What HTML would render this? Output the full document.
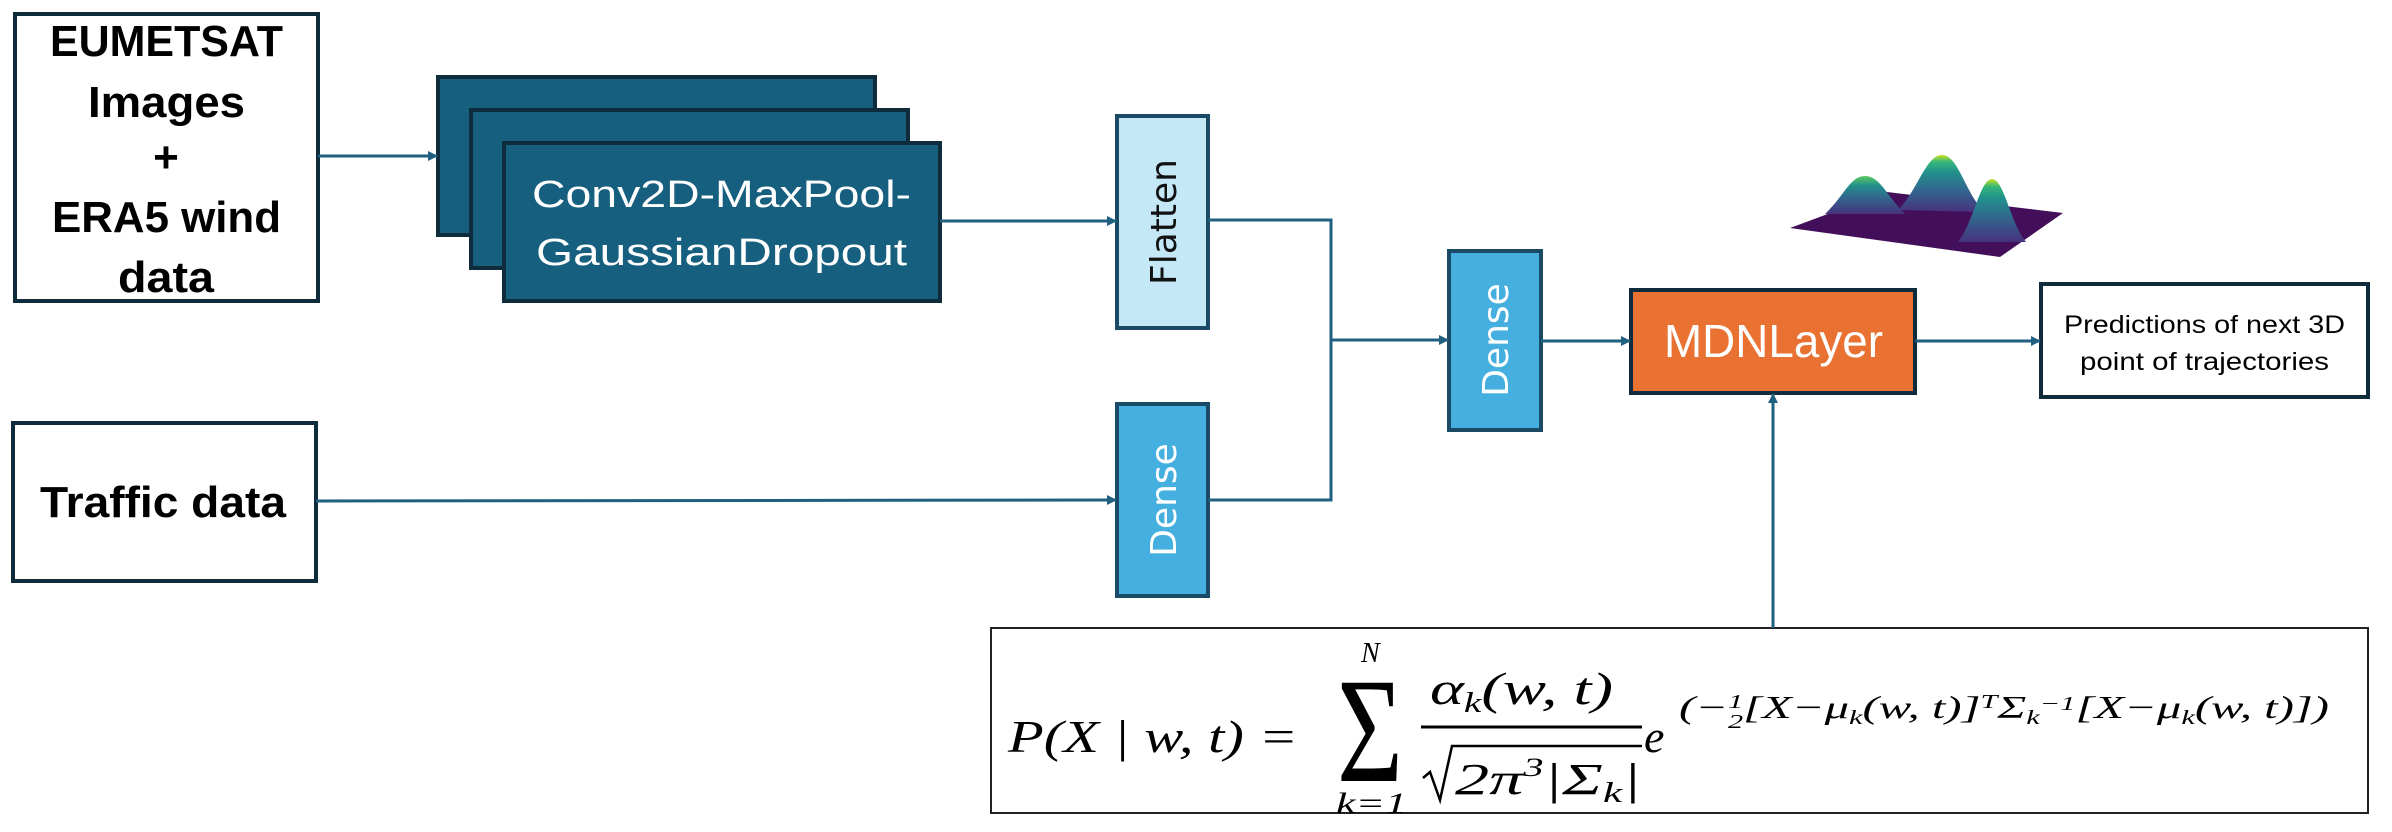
<!DOCTYPE html>
<html><head><meta charset="utf-8"><style>
html,body{margin:0;padding:0;background:#fff;}
svg{display:block;}
.b{font-family:"Liberation Sans Narrow","Liberation Sans",sans-serif;font-weight:bold;}
.n{font-family:"Liberation Sans Narrow","Liberation Sans",sans-serif;}
.d{font-family:"DejaVu Sans",sans-serif;}
.m{font-family:"Liberation Serif",serif;font-style:italic;}
.r{font-family:"Liberation Serif",serif;}
</style></head><body>
<svg width="2392" height="832" viewBox="0 0 2392 832" xmlns="http://www.w3.org/2000/svg">
<defs>
<marker id="a" markerWidth="10" markerHeight="10" refX="9" refY="5" orient="auto" markerUnits="userSpaceOnUse"><path d="M0,0 L10,5 L0,10 z" fill="#1f5f80"/></marker>
<linearGradient id="pk" x1="0" y1="1" x2="0" y2="0"><stop offset="0" stop-color="#46327e"/><stop offset="0.4" stop-color="#31688e"/><stop offset="0.7" stop-color="#21918c"/><stop offset="0.88" stop-color="#35b779"/><stop offset="1" stop-color="#c8e020"/></linearGradient>
<linearGradient id="pk2" x1="0" y1="1" x2="0" y2="0"><stop offset="0" stop-color="#46327e"/><stop offset="0.45" stop-color="#31688e"/><stop offset="0.75" stop-color="#21918c"/><stop offset="1" stop-color="#5ec962"/></linearGradient>
</defs>
<g stroke="#0f2c3d" stroke-width="4">
<rect x="15" y="14" width="303" height="287" fill="#fff"/>
<rect x="13" y="423" width="303" height="158" fill="#fff"/>
<rect x="438" y="77" width="437" height="158" fill="#175f7f"/>
<rect x="471" y="110" width="437" height="158" fill="#175f7f"/>
<rect x="504" y="143" width="436" height="158" fill="#175f7f"/>
<rect x="1117" y="116" width="91" height="212" fill="#c5e8f7" stroke="#1a4a66"/>
<rect x="1117" y="404" width="91" height="192" fill="#45b0e0" stroke="#1a4a66"/>
<rect x="1449" y="251" width="92" height="179" fill="#45b0e0" stroke="#1a4a66"/>
<rect x="1631" y="290" width="284" height="103" fill="#e97132"/>
<rect x="2041" y="284" width="327" height="113" fill="#fff"/>
</g>
<rect x="991" y="628" width="1377" height="185" fill="#fff" stroke="#222" stroke-width="2"/>
<g stroke="#1f5f80" stroke-width="3" fill="none">
<line x1="318" y1="156" x2="437" y2="156" marker-end="url(#a)"/>
<line x1="940" y1="221" x2="1116" y2="221" marker-end="url(#a)"/>
<line x1="316" y1="501" x2="1116" y2="500" marker-end="url(#a)"/>
<polyline points="1208,220 1331,220 1331,500 1208,500"/>
<line x1="1331" y1="340" x2="1448" y2="340" marker-end="url(#a)"/>
<line x1="1541" y1="341" x2="1630" y2="341" marker-end="url(#a)"/>
<line x1="1915" y1="341" x2="2040" y2="341" marker-end="url(#a)"/>
<line x1="1773" y1="628" x2="1773" y2="394" marker-end="url(#a)"/>
</g>
<g class="b" font-size="44" fill="#000" lengthAdjust="spacingAndGlyphs">
<text x="50" y="56" textLength="233" lengthAdjust="spacingAndGlyphs">EUMETSAT</text>
<text x="88" y="117" textLength="157" lengthAdjust="spacingAndGlyphs">Images</text>
<text x="166" y="172" text-anchor="middle">+</text>
<text x="52" y="232" textLength="229" lengthAdjust="spacingAndGlyphs">ERA5 wind</text>
<text x="118" y="292" textLength="96" lengthAdjust="spacingAndGlyphs">data</text>
<text x="40" y="517" textLength="246" lengthAdjust="spacingAndGlyphs">Traffic data</text>
</g>
<g class="n" font-size="38" fill="#fff">
<text x="532" y="207" textLength="379" lengthAdjust="spacingAndGlyphs">Conv2D-MaxPool-</text>
<text x="536" y="265" textLength="371" lengthAdjust="spacingAndGlyphs">GaussianDropout</text>
<text x="1664" y="357" font-size="46" textLength="219" lengthAdjust="spacingAndGlyphs">MDNLayer</text>
</g>
<g class="d" font-size="36" text-anchor="middle">
<text transform="translate(1176,222) rotate(-90)" fill="#111">Flatten</text>
<text transform="translate(1176,500) rotate(-90)" fill="#fff">Dense</text>
<text transform="translate(1508,340) rotate(-90)" fill="#fff">Dense</text>
</g>
<g class="n" font-size="25" fill="#000">
<text x="2064" y="333" textLength="281" lengthAdjust="spacingAndGlyphs">Predictions of next 3D</text>
<text x="2080" y="370" textLength="249" lengthAdjust="spacingAndGlyphs">point of trajectories</text>
</g>
<!-- surface -->
<polygon points="1790,228 1887,192 2063,213 2000,257" fill="#440f5a"/>
<path d="M1825,214 C1845,195 1850,176 1865,176 C1880,176 1886,195 1905,214 Z" fill="url(#pk2)"/>
<path d="M1898,210 C1918,190 1926,155 1942,155 C1958,155 1964,190 1984,212 Z" fill="url(#pk)"/>
<path d="M1958,242 C1974,222 1980,179 1992,179 C2004,179 2010,222 2026,242 Z" fill="url(#pk)"/>
<!-- formula -->
<g fill="#000">
<text class="m" x="1008" y="752" font-size="46" textLength="290" lengthAdjust="spacingAndGlyphs">P(X | w, t) =</text>
<text class="r" x="1337" y="781" font-size="150" textLength="66" lengthAdjust="spacingAndGlyphs">Σ</text>
<text class="m" x="1361" y="662" font-size="28">N</text>
<text class="m" x="1336" y="813" font-size="30" textLength="71" lengthAdjust="spacingAndGlyphs">k=1</text>
<text class="m" x="1430" y="704" font-size="46" textLength="183" lengthAdjust="spacingAndGlyphs">α<tspan font-size="28" dy="8">k</tspan><tspan dy="-8">(w, t)</tspan></text>
<line x1="1421" y1="727" x2="1642" y2="727" stroke="#000" stroke-width="3"/>
<path d="M1423,778 L1430,772 L1440,800 L1452,746 L1642,746" stroke="#000" stroke-width="2.5" fill="none"/>
<text class="m" x="1455" y="794" font-size="44" textLength="186" lengthAdjust="spacingAndGlyphs">2π<tspan font-size="26" dy="-18">3</tspan><tspan dy="18">|Σ</tspan><tspan font-size="28" dy="8">k</tspan><tspan dy="-8">|</tspan></text>
<text class="m" x="1644" y="752" font-size="46">e</text>
<text class="m" x="1679" y="718" font-size="32" textLength="650" lengthAdjust="spacingAndGlyphs">(−<tspan font-size="20" dy="-10">1</tspan><tspan font-size="20" dx="-10" dy="20">2</tspan><tspan dy="-10">[X−μ</tspan><tspan font-size="20" dy="6">k</tspan><tspan dy="-6">(w, t)]</tspan><tspan font-size="20" dy="-10">T</tspan><tspan dy="10">Σ</tspan><tspan font-size="20" dy="6">k</tspan><tspan font-size="20" dy="-14">−1</tspan><tspan dy="8">[X−μ</tspan><tspan font-size="20" dy="6">k</tspan><tspan dy="-6">(w, t)])</tspan></text>
</g>
</svg>
</body></html>
